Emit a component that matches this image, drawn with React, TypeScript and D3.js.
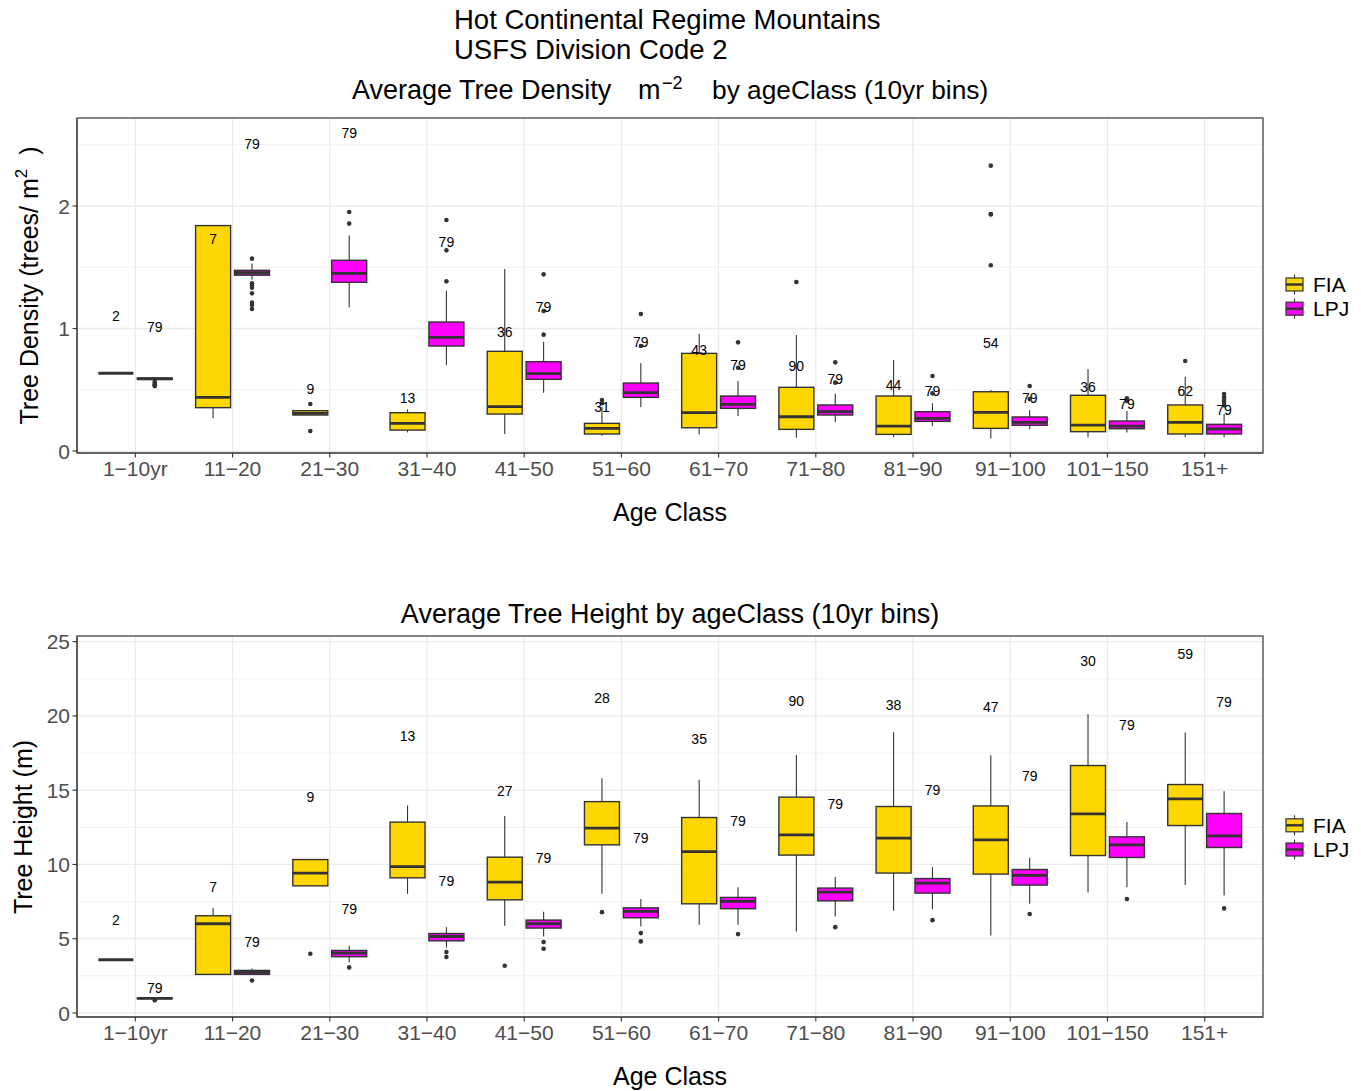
import React from 'react';
import * as d3 from 'd3';

// ── data ────────────────────────────────────────────────────────────────
const ageClasses = ['1−10yr', '11−20', '21−30', '31−40', '41−50', '51−60', '61−70', '71−80', '81−90', '91−100', '101−150', '151+'];
const seriesNames = ['FIA', 'LPJ'];
const seriesFill: Record<string, string> = { FIA: '#FFD700', LPJ: '#FF00FF' };

// box stats: [lower whisker, q1, median, q3, upper whisker]
const densityFIA = [
  [0.635, 0.635, 0.635, 0.635, 0.635], [0.267, 0.354, 0.438, 1.84, 1.84], [0.294, 0.294, 0.307, 0.329, 0.329],
  [0.152, 0.171, 0.226, 0.313, 0.34], [0.139, 0.302, 0.362, 0.814, 1.486], [0.125, 0.139, 0.185, 0.226, 0.36],
  [0.136, 0.19, 0.313, 0.797, 0.958], [0.109, 0.177, 0.28, 0.52, 0.947], [0.112, 0.136, 0.204, 0.449, 0.743],
  [0.103, 0.185, 0.316, 0.484, 0.498], [0.112, 0.158, 0.212, 0.455, 0.667], [0.112, 0.139, 0.234, 0.376, 0.607],
];
const densityLPJ = [
  [0.575, 0.585, 0.59, 0.595, 0.6], [1.4, 1.435, 1.455, 1.475, 1.53], [1.173, 1.377, 1.45, 1.557, 1.76],
  [0.702, 0.857, 0.928, 1.053, 1.309], [0.476, 0.585, 0.631, 0.729, 0.892], [0.357, 0.438, 0.476, 0.555, 0.716],
  [0.286, 0.348, 0.381, 0.449, 0.571], [0.237, 0.294, 0.321, 0.376, 0.468], [0.204, 0.242, 0.267, 0.321, 0.389],
  [0.177, 0.21, 0.234, 0.278, 0.335], [0.152, 0.182, 0.204, 0.245, 0.327], [0.112, 0.139, 0.18, 0.218, 0.302],
];
const densityFIAOut = [
  [], [], [0.384, 0.163], [], [], [0.416, 0.39], [], [1.38], [], [2.329, 1.935, 1.93, 1.516], [], [0.735],
];
const densityLPJOut = [
  [0.565, 0.555, 0.545, 0.535, 0.53], [1.57, 1.369, 1.35, 1.333, 1.287, 1.211, 1.192, 1.159], [1.951, 1.856],
  [1.886, 1.638, 1.385], [1.442, 1.143, 0.95], [1.118, 0.857], [0.887, 0.68], [0.724, 0.558], [0.612, 0.471],
  [0.531, 0.424], [0.43, 0.408], [0.465, 0.438, 0.416, 0.394, 0.373],
];
const densityFIAN = [2, 7, 9, 13, 36, 31, 43, 90, 44, 54, 36, 62];
const densityLPJN = [79, 79, 79, 79, 79, 79, 79, 79, 79, 79, 79, 79];
const densityFIALabelY = [1.1, 1.73, 0.51, 0.43, 0.974, 0.362, 0.827, 0.694, 0.539, 0.879, 0.525, 0.492];
const densityLPJLabelY = [1.015, 2.51, 2.594, 1.709, 1.173, 0.887, 0.702, 0.585, 0.492, 0.43, 0.384, 0.335];
const densityTicks = [0, 1, 2];
const densityMinor = [0.5, 1.5, 2.5];

const heightFIA = [
  [3.585, 3.585, 3.585, 3.585, 3.585], [2.597, 2.597, 6.007, 6.545, 7.06], [8.56, 8.56, 9.42, 10.33, 10.33],
  [8.02, 9.1, 9.86, 12.85, 13.97], [5.87, 7.62, 8.81, 10.49, 13.27], [8.02, 11.32, 12.44, 14.23, 15.81],
  [5.94, 7.35, 10.87, 13.16, 15.71], [5.49, 10.63, 11.99, 14.53, 17.37], [6.88, 9.42, 11.77, 13.9, 18.9],
  [5.22, 9.35, 11.66, 13.94, 17.35], [8.11, 10.6, 13.41, 16.66, 20.11], [8.61, 12.62, 14.41, 15.38, 18.88],
];
const heightLPJ = [
  [0.95, 0.97, 0.98, 1.0, 1.02], [2.55, 2.597, 2.73, 2.866, 3.0], [3.41, 3.79, 4.035, 4.21, 4.53],
  [4.41, 4.86, 5.15, 5.35, 5.78], [5.15, 5.717, 6.007, 6.255, 6.81], [5.83, 6.41, 6.835, 7.08, 7.67],
  [5.94, 7.02, 7.51, 7.78, 8.47], [6.5, 7.55, 8.14, 8.41, 9.15], [6.99, 8.07, 8.74, 9.05, 9.82],
  [7.35, 8.61, 9.26, 9.66, 10.45], [8.47, 10.47, 11.32, 11.86, 12.85], [7.91, 11.14, 11.93, 13.43, 14.93],
];
const heightFIAOut = [[], [], [3.99], [], [3.18], [6.79], [], [], [], [], [], []];
const heightLPJOut = [[0.85], [2.19], [3.07], [4.1, 3.77], [4.775, 4.325], [5.38, 4.82], [5.31], [5.78], [6.25], [6.66], [7.67], [7.04]];
const heightFIAN = [2, 7, 9, 13, 27, 28, 35, 90, 38, 47, 30, 59];
const heightLPJN = [79, 79, 79, 79, 79, 79, 79, 79, 79, 79, 79, 79];
const heightFIALabelY = [6.23, 8.475, 14.57, 18.65, 14.95, 21.23, 18.45, 21.03, 20.74, 20.62, 23.72, 24.17];
const heightLPJLabelY = [1.68, 4.775, 6.995, 8.88, 10.42, 11.77, 12.96, 14.06, 15.02, 15.98, 19.39, 20.96];
const heightTicks = [0, 5, 10, 15, 20, 25];
const heightMinor = [2.5, 7.5, 12.5, 17.5, 22.5];

// ── layout ──────────────────────────────────────────────────────────────
const W = 1361, H = 1091;
const LEFT = 77, RIGHT = 1263;
const FONT = '"Liberation Sans", Arial, Helvetica, sans-serif';
const INK = '#333333';

function BoxPanel({ top, bottom, domain, ticks, minor, stats, outliers, counts, labelY, legendY }) {
  const x = d3.scalePoint().domain(ageClasses).range([LEFT, RIGHT]).padding(0.6);
  const step = x.step();
  const y = d3.scaleLinear().domain(domain).range([bottom, top]);
  const dodge = d3.scaleOrdinal<string, number>().domain(seriesNames).range([-0.2 * step, 0.2 * step]);
  const boxW = 0.36 * step;

  return (
    <g>
      {/* grid */}
      {minor.map(v => (
        <line key={'mi' + v} x1={LEFT} x2={RIGHT} y1={y(v)} y2={y(v)} stroke="#F0F0F0" strokeWidth={1} />
      ))}
      {ticks.map(v => (
        <line key={'ma' + v} x1={LEFT} x2={RIGHT} y1={y(v)} y2={y(v)} stroke="#EBEBEB" strokeWidth={1.3} />
      ))}
      {ageClasses.map(c => (
        <line key={'vx' + c} x1={x(c)} x2={x(c)} y1={top} y2={bottom} stroke="#EBEBEB" strokeWidth={1.3} />
      ))}

      {/* boxes */}
      {seriesNames.map(s => ageClasses.map((c, i) => {
        const [lo, q1, med, q3, hi] = stats[s][i];
        const cx = x(c) + dodge(s);
        return (
          <g key={s + c}>
            <line x1={cx} x2={cx} y1={y(q3)} y2={y(hi)} stroke={INK} strokeWidth={1.1} />
            <line x1={cx} x2={cx} y1={y(q1)} y2={y(lo)} stroke={INK} strokeWidth={1.1} />
            <rect x={cx - boxW / 2} y={y(q3)} width={boxW} height={Math.max(0, y(q1) - y(q3))}
              fill={seriesFill[s]} stroke={INK} strokeWidth={1.4} />
            <line x1={cx - boxW / 2} x2={cx + boxW / 2} y1={y(med)} y2={y(med)} stroke={INK} strokeWidth={2.8} />
            {outliers[s][i].map((v, k) => (
              <circle key={k} cx={cx} cy={y(v)} r={2.3} fill={INK} />
            ))}
          </g>
        );
      }))}

      {/* n labels */}
      {seriesNames.map(s => ageClasses.map((c, i) => (
        <text key={'n' + s + c} x={x(c) + dodge(s)} y={y(labelY[s][i])} dy="0.36em"
          textAnchor="middle" fontSize={14} fill="#000">{counts[s][i]}</text>
      )))}

      {/* border + axes */}
      <rect x={LEFT} y={top} width={RIGHT - LEFT} height={bottom - top} fill="none" stroke={INK} strokeWidth={1.2} />
      <line x1={LEFT} x2={RIGHT} y1={bottom} y2={bottom} stroke="#555" strokeWidth={1.6} />
      <line x1={LEFT} x2={LEFT} y1={top} y2={bottom} stroke="#555" strokeWidth={1.6} />
      {ticks.map(v => (
        <g key={'yt' + v}>
          <line x1={LEFT - 4.5} x2={LEFT} y1={y(v)} y2={y(v)} stroke={INK} strokeWidth={1.1} />
          <text x={LEFT - 7} y={y(v)} dy="0.36em" textAnchor="end" fontSize={21} fill="#4D4D4D">{v}</text>
        </g>
      ))}
      {ageClasses.map(c => (
        <g key={'xt' + c}>
          <line x1={x(c)} x2={x(c)} y1={bottom} y2={bottom + 4.5} stroke={INK} strokeWidth={1.1} />
          <text x={x(c)} y={bottom + 23} textAnchor="middle" fontSize={21} fill="#4D4D4D">{c}</text>
        </g>
      ))}

      {/* legend */}
      {seriesNames.map((s, k) => {
        const cy = legendY + k * 24.2;
        const kx = 1294.5;
        return (
          <g key={'lg' + s}>
            <line x1={kx} x2={kx} y1={cy - 10} y2={cy + 10} stroke={INK} strokeWidth={1.1} />
            <rect x={kx - 8.5} y={cy - 6.5} width={17} height={13} fill={seriesFill[s]} stroke={INK} strokeWidth={1.2} />
            <line x1={kx - 8.5} x2={kx + 8.5} y1={cy} y2={cy} stroke={INK} strokeWidth={2.4} />
            <text x={1313} y={cy} dy="0.36em" fontSize={21} fill="#000">{s}</text>
          </g>
        );
      })}
    </g>
  );
}

export default function App() {
  return (
    <div style={{ position: 'absolute', left: 0, top: 0 }}>
      <svg width={W} height={H} style={{ display: 'block', background: '#fff', fontFamily: FONT }}>
        <text x={454} y={29} fontSize={27.5} fill="#000">Hot Continental Regime Mountains</text>
        <text x={454} y={59} fontSize={27.5} fill="#000">USFS Division Code 2</text>
        <text y={99} fontSize={27} fill="#000">
          <tspan x={352}>Average Tree Density</tspan>
          <tspan x={638}>m</tspan>
          <tspan x={662} dy={-10} fontSize={18}>−2</tspan>
          <tspan x={712} dy={10} fontSize={26.3}>by ageClass (10yr bins)</tspan>
        </text>

        <BoxPanel
          top={118} bottom={453} domain={[-0.016, 2.718]}
          ticks={densityTicks} minor={densityMinor}
          stats={{ FIA: densityFIA, LPJ: densityLPJ }}
          outliers={{ FIA: densityFIAOut, LPJ: densityLPJOut }}
          counts={{ FIA: densityFIAN, LPJ: densityLPJN }}
          labelY={{ FIA: densityFIALabelY, LPJ: densityLPJLabelY }}
          legendY={284.5}
        />
        <text x={670} y={521} textAnchor="middle" fontSize={25} fill="#000">Age Class</text>
        <text transform="translate(38,285.5) rotate(-90)" textAnchor="middle" fontSize={25} fill="#000">
          Tree Density (trees/ m<tspan dy={-11} fontSize={17}>2</tspan><tspan dy={11}>{'\u00a0\u00a0)'}</tspan>
        </text>

        <text x={670} y={623} textAnchor="middle" fontSize={27} fill="#000">Average Tree Height by ageClass (10yr bins)</text>
        <BoxPanel
          top={636} bottom={1017} domain={[-0.27, 25.38]}
          ticks={heightTicks} minor={heightMinor}
          stats={{ FIA: heightFIA, LPJ: heightLPJ }}
          outliers={{ FIA: heightFIAOut, LPJ: heightLPJOut }}
          counts={{ FIA: heightFIAN, LPJ: heightLPJN }}
          labelY={{ FIA: heightFIALabelY, LPJ: heightLPJLabelY }}
          legendY={825.3}
        />
        <text x={670} y={1085} textAnchor="middle" fontSize={25} fill="#000">Age Class</text>
        <text transform="translate(32,827) rotate(-90)" textAnchor="middle" fontSize={25} fill="#000">Tree Height (m)</text>
      </svg>
    </div>
  );
}
